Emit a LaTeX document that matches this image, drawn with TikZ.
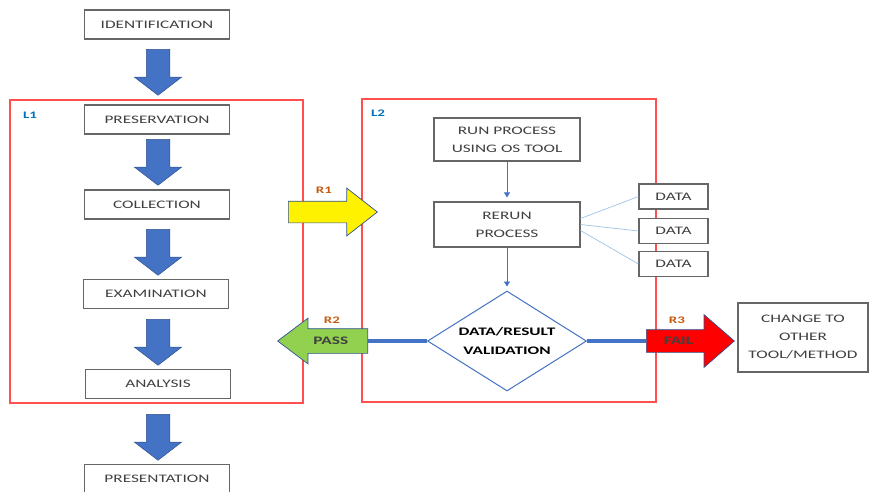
\documentclass[tikz,border=0pt]{standalone}
\usepackage{fontspec}
\setmainfont{Carlito}[FakeStretch=1.5]
\usetikzlibrary{shapes.geometric,shapes.arrows,arrows.meta}

\definecolor{boxtext}{HTML}{404040}
\definecolor{boxline}{HTML}{666666}
\definecolor{framered}{HTML}{FF4F4F}
\definecolor{lblue}{HTML}{0070C0}
\definecolor{rorange}{HTML}{C55A11}
\definecolor{arrowblue}{HTML}{4472C4}
\definecolor{arrowedge}{HTML}{2F528F}
\definecolor{thinblue}{HTML}{9DC3E6}
\definecolor{passgreen}{HTML}{92D050}

\tikzset{
  stage/.style={draw=boxline, line width=1.1pt, fill=white, text=boxtext,
    minimum width=145pt, minimum height=29pt, inner sep=0pt, align=center,
    font=\fontsize{11.5}{18}\selectfont},
  databox/.style={stage, minimum width=69pt, minimum height=25pt},
  frame/.style={draw=framered, line width=1.2pt},
  lab/.style={font=\fontsize{10}{12}\selectfont\bfseries, inner sep=0pt},
  blockdown/.style={single arrow, shape border rotate=270, fill=arrowblue,
    draw=arrowedge, line width=0.5pt, inner sep=11.5pt, minimum height=46pt,
    single arrow head extend=12pt, single arrow tip angle=105, anchor=tail},
  bigarrow/.style={single arrow, draw=arrowedge, line width=0.7pt,
    anchor=tail, text=boxtext, text height=7.5pt, text depth=0pt,
    font=\fontsize{11.5}{14}\selectfont\bfseries},
  flow/.style={draw=arrowblue, line width=0.6pt,
    -{Triangle[width=6pt,length=5pt]}, shorten >=4pt},
  dataline/.style={draw=thinblue, line width=0.7pt},
  result/.style={draw=arrowblue, line width=3.2pt}
}

\begin{document}
\begin{tikzpicture}[x=1pt, y=-1pt]
\useasboundingbox (0,0) rectangle (874,491);

% frames
\draw[frame] (10,100) rectangle (303,403);
\draw[frame] (362,99) rectangle (656,402);
\node[lab, text=lblue] (l1lab) at (30,115) {L1};
\node[lab, text=lblue] (l2lab) at (378,113) {L2};

% forensic stages
\node[stage] (ident) at (157,24.5) {IDENTIFICATION};
\node[stage] (pres) at (157,119.5) {PRESERVATION};
\node[stage] (coll) at (157,204.5) {COLLECTION};
\node[stage] (exam) at (156,294) {EXAMINATION};
\node[stage] (anal) at (158,384) {ANALYSIS};
\node[stage] (prsn) at (157,479) {PRESENTATION};

\node[blockdown] (a1) at (158,49) {};
\node[blockdown] (a2) at (158,139) {};
\node[blockdown] (a3) at (158,229) {};
\node[blockdown] (a4) at (158,319) {};
\node[blockdown] (a5) at (158,414) {};

% rerun block
\node[stage, minimum width=146pt, minimum height=43pt] (run) at (507,139.5)
  {RUN PROCESS\\USING OS TOOL};
\node[stage, minimum width=146pt, minimum height=45pt] (rerun) at (507,224.5)
  {RERUN\\PROCESS};
\node[databox] (d1) at (673.5,196.5) {DATA};
\node[databox] (d2) at (673.5,231) {DATA};
\node[databox] (d3) at (673.5,264) {DATA};
\node[diamond, draw=arrowblue, line width=1pt, fill=white, aspect=1.6,
  minimum width=159pt, minimum height=100pt, inner sep=0pt, align=center,
  font=\fontsize{11.5}{19}\selectfont\bfseries] (valid) at (507,341)
  {DATA/RESULT\\VALIDATION};
\node[stage, minimum width=130pt, minimum height=69pt] (change) at (803,337.5)
  {CHANGE TO\\OTHER\\TOOL/METHOD};

\draw[flow] (run) -- (rerun);
\draw[flow] (rerun) -- (valid.north);
\draw[dataline] ([yshift=6pt]rerun.east) -- (d1.west);
\draw[dataline] (rerun.east) -- (d2.west);
\draw[dataline] ([yshift=-6pt]rerun.east) -- (d3.west);

% results
\draw[result] (valid.west) -- (368,341) coordinate (passend);
\draw[result] (valid.east) -- (646,341) coordinate (failend);
\node[bigarrow, fill=yellow, inner sep=10.5pt, text height=0pt, minimum height=89pt,
  single arrow head extend=13pt, single arrow tip angle=76] (r1) at (288,212) {};
\node[bigarrow, fill=passgreen, shape border rotate=180, inner xsep=4pt,
  inner ysep=8.25pt, minimum height=90pt, single arrow head extend=10.5pt,
  single arrow tip angle=74] (pass) at (passend) {PASS};
\node[bigarrow, fill=red, inner xsep=4pt, inner ysep=7.25pt, minimum height=88pt,
  text width=40pt, align=left, single arrow head extend=15pt,
  single arrow tip angle=82] (fail) at (failend) {FAIL};
\node[lab, text=rorange] (r1lab) at (324,190) {R1};
\node[lab, text=rorange] (r2lab) at (332,320) {R2};
\node[lab, text=rorange] (r3lab) at (677,320) {R3};
\end{tikzpicture}
\end{document}
